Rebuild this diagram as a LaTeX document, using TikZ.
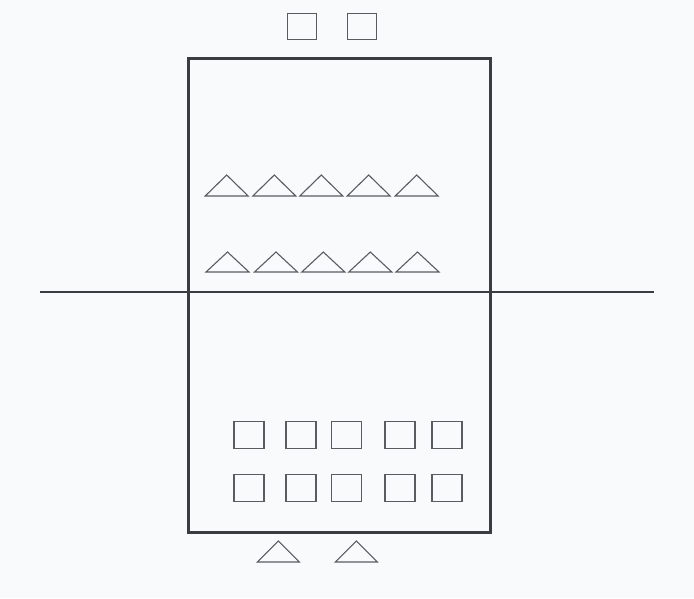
\documentclass[tikz,border=0pt]{standalone}
\usetikzlibrary{positioning}
\definecolor{paper}{HTML}{F8FAFB}
\definecolor{ink}{HTML}{3A3D3F}
\definecolor{pencil}{HTML}{5A5D60}

\begin{document}
\begin{tikzpicture}[
    x=1pt, y=-1pt,
    frame/.style={draw=ink, line width=2.6pt},
    divider/.style={draw=ink, line width=2.0pt},
    sq/.style={draw=pencil, line width=1.1pt, inner sep=0pt, minimum width=30pt, minimum height=27pt},
    tri/.style={draw=pencil, line width=1.1pt, line join=miter},
]
    \fill[paper] (0,0) rectangle (694,598);
    \useasboundingbox (0,0) rectangle (694,598);

    % =====================================================================
    % Frame and dividing line
    % =====================================================================
    \draw[frame] (188.5,58.5) rectangle (490.5,532.5);
    \coordinate (lineL) at (40,291.5);
    \coordinate (lineR) at (654,291.5);
    \draw[divider] (lineL) -- (lineR);

    % =====================================================================
    % Squares above the frame
    % =====================================================================
    \node[sq, minimum width=29pt, minimum height=26pt] (top1) at (301.7,26.3) {};
    \node[sq, minimum width=29pt, minimum height=26pt] (top2) at (362,26.3) {};

    % =====================================================================
    % Triangles, upper half
    % =====================================================================
    \foreach \x [count=\i] in {226.7,274.3,321.3,368.7,416.7}
        \draw[tri] (\x-21.5,196) -- (\x,175) -- (\x+21.5,196) -- cycle;
    \foreach \x [count=\i] in {227.5,276,323.3,370.3,417.5}
        \draw[tri] (\x-21.5,272) -- (\x,252) -- (\x+21.5,272) -- cycle;

    % =====================================================================
    % Squares, lower half
    % =====================================================================
    \foreach \x [count=\i] in {249,301,346.7,400,447} {
        \node[sq] (sqa\i) at (\x,435) {};
        \node[sq] (sqb\i) at (\x,488.3) {};
    }

    % =====================================================================
    % Triangles below the frame
    % =====================================================================
    \foreach \x in {278.3,356.3}
        \draw[tri] (\x-21,562) -- (\x,541) -- (\x+21,562) -- cycle;

\end{tikzpicture}
\end{document}
